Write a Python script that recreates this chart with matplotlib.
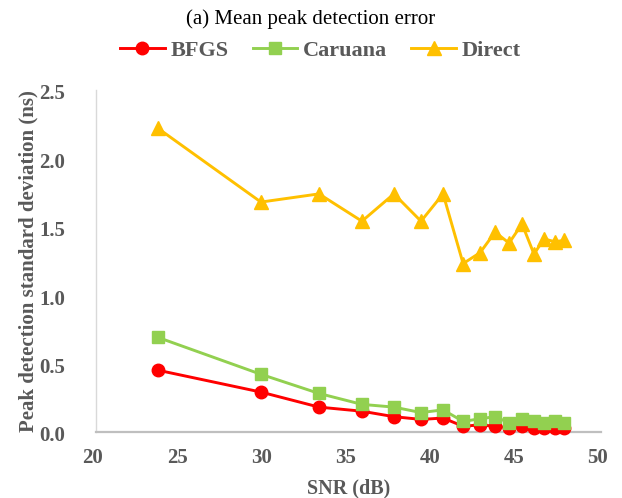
import matplotlib
matplotlib.use("Agg")
import matplotlib.pyplot as plt
from matplotlib.transforms import ScaledTranslation

snr = [23.68, 29.80, 33.25, 35.80, 37.70, 39.31, 40.62, 41.81, 42.82, 43.71, 44.54, 45.31, 46.02, 46.62, 47.27, 47.81]
bfgs = [0.45, 0.29, 0.18, 0.15, 0.11, 0.09, 0.10, 0.04, 0.05, 0.04, 0.03, 0.04, 0.03, 0.025, 0.03, 0.025]
caruana = [0.69, 0.42, 0.28, 0.20, 0.18, 0.14, 0.16, 0.075, 0.095, 0.11, 0.065, 0.095, 0.08, 0.065, 0.075, 0.065]
direct = [2.22, 1.68, 1.74, 1.54, 1.74, 1.54, 1.74, 1.23, 1.31, 1.46, 1.38, 1.52, 1.30, 1.41, 1.39, 1.40]

xticks = [20, 25, 30, 35, 40, 45, 50]
yticks = [0.0, 0.5, 1.0, 1.5, 2.0, 2.5]

plt.rcParams['font.family'] = ['Liberation Serif', 'DejaVu Serif']
gray = '#595959'

fig = plt.figure(figsize=(6.22, 4.98), dpi=100)
ax = fig.add_axes([0.1543, 0.1331, 0.8119, 0.6862])

lw = 2.1
ax.plot(snr, bfgs, color='#FF0000', marker='o', markersize=9.0, linewidth=lw, label='BFGS', clip_on=False, zorder=3)
ax.plot(snr, caruana, color='#92D050', marker='s', markersize=8.8, linewidth=lw, label='Caruana', clip_on=False, zorder=4)
ax.plot(snr, direct, color='#FFC000', marker='^', markersize=10, linewidth=lw, label='Direct', clip_on=False, zorder=5)

ax.set_xlim(20, 50)
ax.set_ylim(0, 2.5)
ax.set_xticks(xticks)
ax.set_yticks(yticks)
ax.set_yticklabels([f"{v:.1f}" for v in yticks])
for s in ['top', 'right']:
    ax.spines[s].set_visible(False)
ax.spines['bottom'].set_color('#BFBFBF')
ax.spines['bottom'].set_linewidth(1.6)
ax.spines['left'].set_color('#D9D9D9')
ax.spines['left'].set_linewidth(1.0)
ax.tick_params(axis='both', length=0, labelsize=15, labelcolor=gray)
ax.tick_params(axis='y', pad=22)
ax.tick_params(axis='x', pad=12)
for lbl in ax.get_xticklabels():
    lbl.set_fontweight('bold')
    lbl.set_transform(lbl.get_transform() + ScaledTranslation(-3 / 100, 0, fig.dpi_scale_trans))
for lbl in ax.get_yticklabels():
    lbl.set_fontweight('bold')
    lbl.set_transform(lbl.get_transform() + ScaledTranslation(0, -2 / 100, fig.dpi_scale_trans))

ax.set_xlabel('SNR (dB)', fontsize=14.5, fontweight='bold', color=gray, labelpad=7.5)
ax.set_ylabel('Peak detection standard deviation (ns)', fontsize=15, fontweight='bold', color=gray, labelpad=0.5)

fig.text(0.5, 0.962, '(a) Mean peak detection error', ha='center', va='center', fontsize=15, color='black')

leg = fig.legend(loc='center', bbox_to_anchor=(0.515, 0.899), ncol=3, frameon=False,
                 prop={'size': 16, 'weight': 'bold'}, handlelength=2.0, columnspacing=1.1, handletextpad=0.25)
for t in leg.get_texts():
    t.set_color(gray)

fig.savefig('out.png', dpi=100)
